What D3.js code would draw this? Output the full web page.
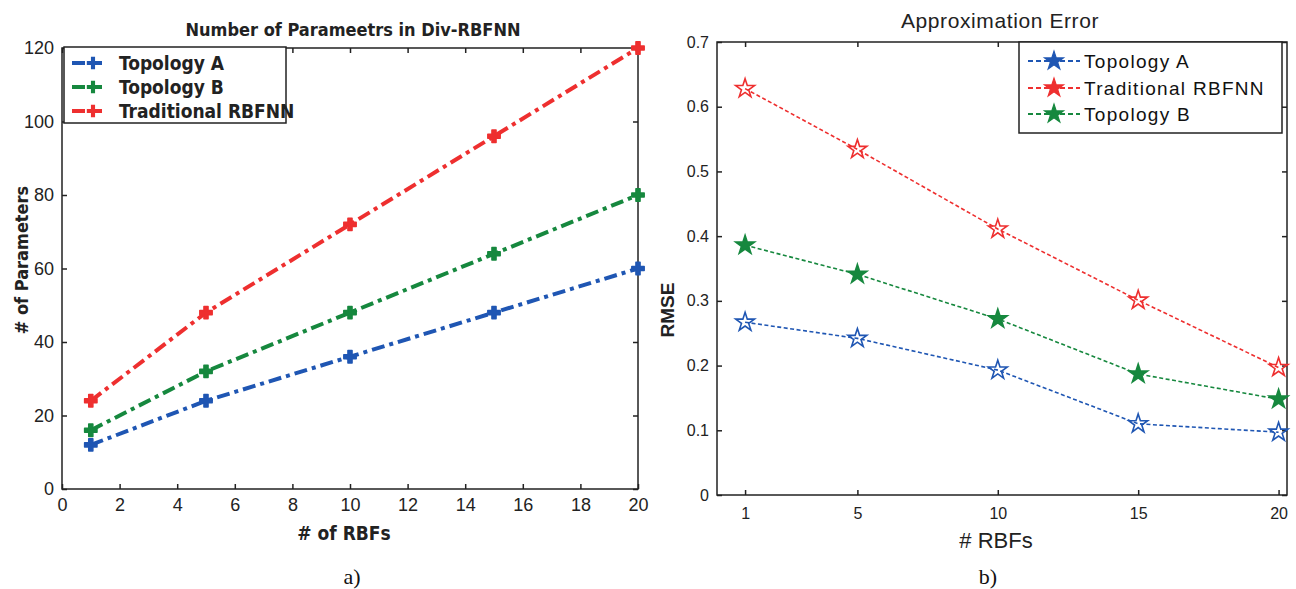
<!DOCTYPE html>
<html>
<head>
<meta charset="utf-8">
<script src="https://cdn.jsdelivr.net/npm/d3@7"></script>
<style>
  body { margin: 0; background: #fff; }
  svg { display: block; }
  .tick text { fill: #222; }
</style>
</head>
<body>
<script>
'use strict';

// ---- data, panel a) ----
const rbfsA = [1, 5, 10, 15, 20];
const paramsTopoA = [12, 24, 36, 48, 60];
const paramsTopoB = [16, 32, 48, 64, 80];
const paramsTrad = [24, 48, 72, 96, 120];
const namesA = ['Topology A', 'Topology B', 'Traditional RBFNN'];
const xTicksA = [0, 2, 4, 6, 8, 10, 12, 14, 16, 18, 20];
const yTicksA = [0, 20, 40, 60, 80, 100, 120];

// ---- data, panel b) ----
const rbfsB = [1, 5, 10, 15, 20];
const rmseTopoA = [0.267, 0.242, 0.193, 0.110, 0.097];
const rmseTrad = [0.628, 0.534, 0.411, 0.301, 0.197];
const rmseTopoB = [0.386, 0.341, 0.272, 0.187, 0.148];
const namesB = ['Topology A', 'Traditional RBFNN', ' Topology B'];
const xTicksB = [1, 5, 10, 15, 20];
const yTicksB = [0, 0.1, 0.2, 0.3, 0.4, 0.5, 0.6, 0.7];

const blue = '#1f56b3', green = '#16883e', red = '#ee2f2f';

const svg = d3.select('body').append('svg')
    .attr('width', 1296)
    .attr('height', 589);

// helper: a boxed axes with inward ticks on all four sides
function drawFrame(g, x, y, xt, yt, fx, fy, fontSize, padX) {
    const [x0, x1] = x.range();
    const [y0, y1] = y.range();
    g.append('g').attr('transform', `translate(0,${y0})`)
        .call(d3.axisBottom(x).tickValues(xt).tickSize(-5).tickPadding(padX).tickFormat(fx));
    g.append('g').attr('transform', `translate(0,${y1})`)
        .call(d3.axisTop(x).tickValues(xt).tickSize(-5).tickFormat(''));
    g.append('g').attr('transform', `translate(${x0},0)`)
        .call(d3.axisLeft(y).tickValues(yt).tickSize(-5).tickPadding(8).tickFormat(fy));
    g.append('g').attr('transform', `translate(${x1},0)`)
        .call(d3.axisRight(y).tickValues(yt).tickSize(-5).tickFormat(''));
    g.selectAll('.domain').remove();
    g.selectAll('.tick line').attr('stroke', '#222').attr('stroke-width', 1.5);
    g.selectAll('.tick text')
        .attr('font-family', '"Liberation Sans", Arial, sans-serif')
        .attr('font-size', fontSize);
    g.append('rect')
        .attr('x', x0).attr('y', y1)
        .attr('width', x1 - x0).attr('height', y0 - y1)
        .attr('fill', 'none').attr('stroke', '#222').attr('stroke-width', 1.5);
}

// =================== panel a) ===================
(function () {
    const x = d3.scaleLinear().domain([0, 20]).range([62, 638]);
    const y = d3.scaleLinear().domain([0, 120]).range([489, 48]);
    const g = svg.append('g');

    drawFrame(g, x, y, xTicksA, yTicksA, d3.format('d'), d3.format('d'), 18, 9);

    const series = [
        { name: namesA[0], vals: paramsTopoA, color: blue },
        { name: namesA[1], vals: paramsTopoB, color: green },
        { name: namesA[2], vals: paramsTrad, color: red }
    ];
    const line = d3.line().x((d) => x(d[0])).y((d) => y(d[1]));
    const cross = d3.symbol().type(d3.symbolCross).size(85);

    series.forEach(function (s) {
        const pts = rbfsA.map((r, i) => [r, s.vals[i]]);
        g.append('path').datum(pts)
            .attr('d', line)
            .attr('fill', 'none')
            .attr('stroke', s.color)
            .attr('stroke-width', 4)
            .attr('stroke-dasharray', '13,5,4,5');
        g.selectAll(null).data(pts).enter().append('path')
            .attr('d', cross)
            .attr('transform', (d) => `translate(${x(d[0])},${y(d[1])})`)
            .attr('fill', s.color)
            .attr('stroke', s.color)
            .attr('stroke-width', 1.5)
            .attr('stroke-linejoin', 'round');
    });

    // legend
    const lg = g.append('g');
    lg.append('rect').attr('x', 64).attr('y', 47).attr('width', 222).attr('height', 76)
        .attr('fill', '#fff').attr('stroke', '#222').attr('stroke-width', 1.5);
    series.forEach(function (s, i) {
        const ly = 63 + i * 24;
        lg.append('line').attr('x1', 72).attr('x2', 115).attr('y1', ly).attr('y2', ly)
            .attr('stroke', s.color).attr('stroke-width', 4).attr('stroke-dasharray', '13,4,13');
        lg.append('path').attr('d', cross).attr('transform', `translate(93,${ly})`).attr('fill', s.color);
        lg.append('text').attr('x', 119).attr('y', ly + 7)
            .style('font-family', '"DejaVu Sans Condensed", "Liberation Sans", sans-serif')
            .style('font-weight', 'bold').style('font-size', '19px')
            .attr('fill', '#222').text(s.name);
    });

    g.append('text').attr('x', 353).attr('y', 36).attr('text-anchor', 'middle')
        .style('font-family', '"DejaVu Sans Condensed", "Liberation Sans", sans-serif')
        .style('font-weight', 'bold').style('font-size', '18px')
        .attr('fill', '#222').text('Number of Parameetrs in Div-RBFNN');
    g.append('text').attr('x', 344).attr('y', 540).attr('text-anchor', 'middle')
        .style('font-family', '"DejaVu Sans Condensed", "Liberation Sans", sans-serif')
        .style('font-weight', 'bold').style('font-size', '19px')
        .attr('fill', '#222').text('# of RBFs');
    g.append('text').attr('transform', 'translate(28,260) rotate(-90)').attr('text-anchor', 'middle')
        .style('font-family', '"DejaVu Sans Condensed", "Liberation Sans", sans-serif')
        .style('font-weight', 'bold').style('font-size', '18px')
        .attr('fill', '#222').text('# of Parameters');
    g.append('text').attr('x', 352).attr('y', 584).attr('text-anchor', 'middle')
        .style('font-family', '"Liberation Serif", "Times New Roman", serif')
        .style('font-size', '22px').attr('fill', '#111').text('a)');
})();

// =================== panel b) ===================
(function () {
    const x = d3.scaleLinear().domain([0, 20.3]).range([717, 1287]);
    const y = d3.scaleLinear().domain([0, 0.7]).range([495, 42]);
    const g = svg.append('g');

    drawFrame(g, x, y, xTicksB, yTicksB, d3.format('d'), (d) => d === 0 ? '0' : d3.format('.1f')(d), 16, 13);
    g.selectAll('.tick text').attr('fill', '#444');

    const series = [
        { name: namesB[0], vals: rmseTopoA, color: blue, fill: 'none' },
        { name: namesB[1], vals: rmseTrad, color: red, fill: 'none' },
        { name: namesB[2], vals: rmseTopoB, color: green, fill: green }
    ];
    const line = d3.line().x((d) => x(d[0])).y((d) => y(d[1]));
    const star = d3.symbol().type(d3.symbolStar).size(110);

    series.forEach(function (s) {
        const pts = rbfsB.map((r, i) => [r, s.vals[i]]);
        g.append('path').datum(pts)
            .attr('d', line)
            .attr('fill', 'none')
            .attr('stroke', s.color)
            .attr('stroke-width', 1.6)
            .attr('stroke-dasharray', '4,2.5');
        g.selectAll(null).data(pts).enter().append('path')
            .attr('d', star)
            .attr('transform', (d) => `translate(${x(d[0])},${y(d[1])})`)
            .attr('fill', s.fill)
            .attr('stroke', s.color)
            .attr('stroke-width', 1.6);
    });

    // legend
    const lg = g.append('g');
    lg.append('rect').attr('x', 1019).attr('y', 42).attr('width', 263).attr('height', 91)
        .attr('fill', '#fff').attr('stroke', '#222').attr('stroke-width', 1.5);
    const rowsY = [61, 88, 114];
    series.forEach(function (s, i) {
        const ly = rowsY[i];
        lg.append('line').attr('x1', 1028).attr('x2', 1080).attr('y1', ly).attr('y2', ly)
            .attr('stroke', s.color).attr('stroke-width', 2).attr('stroke-dasharray', '5,3');
        lg.append('path').attr('d', star).attr('transform', `translate(1054,${ly})`)
            .attr('fill', s.color).attr('stroke', s.color).attr('stroke-width', 1.2);
        lg.append('text').attr('x', 1084).attr('y', ly + 7)
            .style('font-family', '"Liberation Sans", Arial, sans-serif')
            .style('font-size', '19px').style('letter-spacing', '1.3px')
            .attr('fill', '#111').text(s.name);
    });

    g.append('text').attr('x', 1000).attr('y', 28).attr('text-anchor', 'middle')
        .style('font-family', '"Liberation Sans", Arial, sans-serif')
        .style('font-size', '21px').style('letter-spacing', '0.6px')
        .attr('fill', '#222').text('Approximation Error');
    g.append('text').attr('x', 996).attr('y', 548).attr('text-anchor', 'middle')
        .style('font-family', '"Liberation Sans", Arial, sans-serif')
        .style('font-size', '22px').attr('fill', '#222').text('# RBFs');
    g.append('text').attr('transform', 'translate(674,310) rotate(-90)').attr('text-anchor', 'middle')
        .style('font-family', '"Liberation Sans", Arial, sans-serif')
        .style('font-weight', 'bold').style('font-size', '19px')
        .attr('fill', '#222').text('RMSE');
    g.append('text').attr('x', 988).attr('y', 584).attr('text-anchor', 'middle')
        .style('font-family', '"Liberation Serif", "Times New Roman", serif')
        .style('font-size', '22px').attr('fill', '#111').text('b)');
})();
</script>
</body>
</html>
